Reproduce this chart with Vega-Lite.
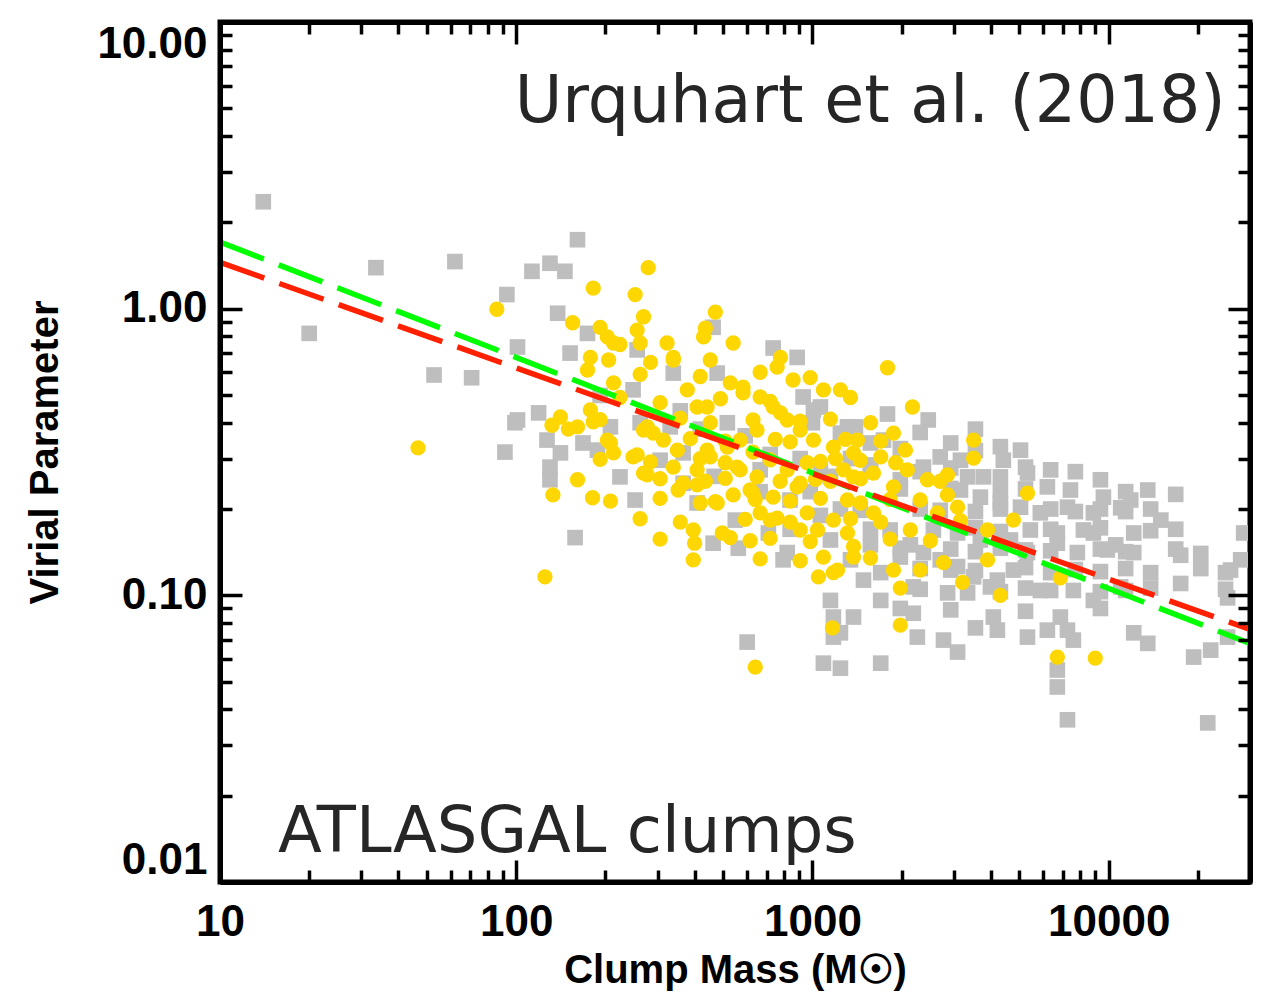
{
  "$schema": "https://vega.github.io/schema/vega-lite/v6.json",
  "width": 1030,
  "height": 860,
  "autosize": {"type": "none"},
  "padding": {"left": 220, "top": 22, "right": 13, "bottom": 113},
  "background": "white",
  "config": {"view": {"stroke": "black", "strokeWidth": 5}},
  "datasets": {
    "atlasgal": [
      {"mass": 14.0, "alpha": 2.36}, {"mass": 33.6, "alpha": 1.39}, {"mass": 20.0, "alpha": 0.82}, {"mass": 62.1, "alpha": 1.46},
      {"mass": 52.8, "alpha": 0.587}, {"mass": 93, "alpha": 1.12}, {"mass": 161, "alpha": 1.74}, {"mass": 113, "alpha": 1.35},
      {"mass": 130, "alpha": 1.44}, {"mass": 146, "alpha": 1.35}, {"mass": 138, "alpha": 0.964}, {"mass": 101, "alpha": 0.735},
      {"mass": 70.7, "alpha": 0.574}, {"mass": 101, "alpha": 0.409}, {"mass": 119, "alpha": 0.433}, {"mass": 152, "alpha": 0.70},
      {"mass": 174, "alpha": 0.82}, {"mass": 256, "alpha": 0.718}, {"mass": 248, "alpha": 0.521}, {"mass": 737, "alpha": 0.729},
      {"mass": 888, "alpha": 0.676}, {"mass": 462, "alpha": 0.861}, {"mass": 930, "alpha": 0.492}, {"mass": 1064, "alpha": 0.454},
      {"mass": 208, "alpha": 0.387}, {"mass": 99, "alpha": 0.400}, {"mass": 127, "alpha": 0.348}, {"mass": 91.6, "alpha": 0.316},
      {"mass": 141, "alpha": 0.314}, {"mass": 130, "alpha": 0.280}, {"mass": 130, "alpha": 0.253}, {"mass": 168, "alpha": 0.340},
      {"mass": 188, "alpha": 0.321}, {"mass": 224, "alpha": 0.259}, {"mass": 252, "alpha": 0.215}, {"mass": 158, "alpha": 0.159},
      {"mass": 306, "alpha": 0.296}, {"mass": 408, "alpha": 0.210}, {"mass": 366, "alpha": 0.246}, {"mass": 549, "alpha": 0.183},
      {"mass": 462, "alpha": 0.152}, {"mass": 562, "alpha": 0.146}, {"mass": 710, "alpha": 0.165}, {"mass": 822, "alpha": 0.141},
      {"mass": 1150, "alpha": 0.096}, {"mass": 602, "alpha": 0.0687}, {"mass": 1089, "alpha": 0.058}, {"mass": 1177, "alpha": 0.0715},
      {"mass": 339, "alpha": 0.596}, {"mass": 331, "alpha": 0.387}, {"mass": 366, "alpha": 0.314}, {"mass": 1008, "alpha": 0.443},
      {"mass": 1313, "alpha": 0.387}, {"mass": 477, "alpha": 0.596}, {"mass": 516, "alpha": 0.400}, {"mass": 1792, "alpha": 0.429},
      {"mass": 2460, "alpha": 0.409}, {"mass": 1397, "alpha": 0.387}, {"mass": 1243, "alpha": 0.368}, {"mass": 1737, "alpha": 0.348},
      {"mass": 2930, "alpha": 0.340}, {"mass": 4410, "alpha": 0.296}, {"mass": 2370, "alpha": 0.280}, {"mass": 2700, "alpha": 0.304},
      {"mass": 3340, "alpha": 0.259}, {"mass": 3780, "alpha": 0.259}, {"mass": 4310, "alpha": 0.259}, {"mass": 5320, "alpha": 0.267},
      {"mass": 6210, "alpha": 0.239}, {"mass": 7430, "alpha": 0.233}, {"mass": 9380, "alpha": 0.253}, {"mass": 9600, "alpha": 0.220},
      {"mass": 13550, "alpha": 0.233}, {"mass": 10980, "alpha": 0.202}, {"mass": 8880, "alpha": 0.194}, {"mass": 7260, "alpha": 0.203},
      {"mass": 5880, "alpha": 0.194}, {"mass": 5040, "alpha": 0.203}, {"mass": 4310, "alpha": 0.210}, {"mass": 3690, "alpha": 0.220},
      {"mass": 3160, "alpha": 0.233}, {"mass": 12150, "alpha": 0.165}, {"mass": 28560, "alpha": 0.165}, {"mass": 8220, "alpha": 0.169},
      {"mass": 6710, "alpha": 0.165}, {"mass": 5440, "alpha": 0.169}, {"mass": 4660, "alpha": 0.156}, {"mass": 3690, "alpha": 0.156},
      {"mass": 3090, "alpha": 0.165}, {"mass": 2560, "alpha": 0.169}, {"mass": 12150, "alpha": 0.141}, {"mass": 8880, "alpha": 0.165},
      {"mass": 9900, "alpha": 0.144}, {"mass": 7840, "alpha": 0.141}, {"mass": 6710, "alpha": 0.152}, {"mass": 5320, "alpha": 0.141},
      {"mass": 4770, "alpha": 0.1225}, {"mass": 4210, "alpha": 0.113}, {"mass": 3500, "alpha": 0.116}, {"mass": 3090, "alpha": 0.126},
      {"mass": 2700, "alpha": 0.133}, {"mass": 2370, "alpha": 0.141}, {"mass": 1980, "alpha": 0.136}, {"mass": 1700, "alpha": 0.120},
      {"mass": 1487, "alpha": 0.113}, {"mass": 2190, "alpha": 0.107}, {"mass": 2860, "alpha": 0.102}, {"mass": 3340, "alpha": 0.102},
      {"mass": 3990, "alpha": 0.107}, {"mass": 5880, "alpha": 0.104}, {"mass": 7600, "alpha": 0.104}, {"mass": 8880, "alpha": 0.096},
      {"mass": 10980, "alpha": 0.107}, {"mass": 17500, "alpha": 0.110}, {"mass": 25800, "alpha": 0.1225}, {"mass": 25200, "alpha": 0.098},
      {"mass": 25200, "alpha": 0.0715}, {"mass": 22100, "alpha": 0.0644}, {"mass": 19360, "alpha": 0.0609}, {"mass": 12150, "alpha": 0.074},
      {"mass": 13550, "alpha": 0.068}, {"mass": 1700, "alpha": 0.096}, {"mass": 1376, "alpha": 0.084}, {"mass": 2190, "alpha": 0.0866},
      {"mass": 2260, "alpha": 0.0715}, {"mass": 2770, "alpha": 0.0698}, {"mass": 3090, "alpha": 0.0634}, {"mass": 4080, "alpha": 0.084},
      {"mass": 4210, "alpha": 0.0756}, {"mass": 5320, "alpha": 0.0715}, {"mass": 6210, "alpha": 0.0756}, {"mass": 6870, "alpha": 0.084},
      {"mass": 7260, "alpha": 0.0756}, {"mass": 7600, "alpha": 0.0698}, {"mass": 6710, "alpha": 0.0549}, {"mass": 6710, "alpha": 0.0479},
      {"mass": 7260, "alpha": 0.0368}, {"mass": 21600, "alpha": 0.0359}, {"mass": 1700, "alpha": 0.058}, {"mass": 1243, "alpha": 0.0557},
      {"mass": 1243, "alpha": 0.074}, {"mass": 796, "alpha": 0.133}, {"mass": 1177, "alpha": 0.084}, {"mass": 1570, "alpha": 0.285},
      {"mass": 1980, "alpha": 0.253}, {"mass": 1450, "alpha": 0.198}, {"mass": 1830, "alpha": 0.169}, {"mass": 2700, "alpha": 0.198},
      {"mass": 3160, "alpha": 0.296}, {"mass": 5040, "alpha": 0.321}, {"mass": 6370, "alpha": 0.274}, {"mass": 11870, "alpha": 0.215},
      {"mass": 15000, "alpha": 0.183}, {"mass": 17500, "alpha": 0.138}, {"mass": 840, "alpha": 0.215}, {"mass": 666, "alpha": 0.274},
      {"mass": 1064, "alpha": 0.274}, {"mass": 1150, "alpha": 0.156}, {"mass": 1344, "alpha": 0.133}, {"mass": 1570, "alpha": 0.150},
      {"mass": 2140, "alpha": 0.150}, {"mass": 2930, "alpha": 0.1225}, {"mass": 10560, "alpha": 0.150}, {"mass": 27900, "alpha": 0.133},
      {"mass": 192, "alpha": 0.498},
      {"mass": 2310, "alpha": 0.37}, {"mass": 3550, "alpha": 0.38}, {"mass": 1980, "alpha": 0.325}, {"mass": 3550, "alpha": 0.32},
      {"mass": 4310, "alpha": 0.33}, {"mass": 2310, "alpha": 0.27}, {"mass": 2930, "alpha": 0.278}, {"mass": 5240, "alpha": 0.28},
      {"mass": 7720, "alpha": 0.27}, {"mass": 1570, "alpha": 0.27}, {"mass": 1980, "alpha": 0.235}, {"mass": 2930, "alpha": 0.236},
      {"mass": 4310, "alpha": 0.23}, {"mass": 5240, "alpha": 0.235}, {"mass": 11410, "alpha": 0.23}, {"mass": 16840, "alpha": 0.225},
      {"mass": 2310, "alpha": 0.2}, {"mass": 3550, "alpha": 0.196}, {"mass": 4310, "alpha": 0.2}, {"mass": 6370, "alpha": 0.2},
      {"mass": 7720, "alpha": 0.196}, {"mass": 9380, "alpha": 0.2}, {"mass": 11410, "alpha": 0.196}, {"mass": 13860, "alpha": 0.2},
      {"mass": 1570, "alpha": 0.17}, {"mass": 3550, "alpha": 0.172}, {"mass": 4310, "alpha": 0.167}, {"mass": 6370, "alpha": 0.17},
      {"mass": 9380, "alpha": 0.172}, {"mass": 13860, "alpha": 0.168}, {"mass": 16840, "alpha": 0.17}, {"mass": 1980, "alpha": 0.146},
      {"mass": 2930, "alpha": 0.145}, {"mass": 3550, "alpha": 0.142}, {"mass": 4310, "alpha": 0.146}, {"mass": 5240, "alpha": 0.144},
      {"mass": 6370, "alpha": 0.143}, {"mass": 9380, "alpha": 0.145}, {"mass": 11410, "alpha": 0.142}, {"mass": 16840, "alpha": 0.145},
      {"mass": 20460, "alpha": 0.14}, {"mass": 2310, "alpha": 0.124}, {"mass": 3550, "alpha": 0.122}, {"mass": 5240, "alpha": 0.125},
      {"mass": 6370, "alpha": 0.12}, {"mass": 7720, "alpha": 0.123}, {"mass": 9380, "alpha": 0.121}, {"mass": 11410, "alpha": 0.124},
      {"mass": 13860, "alpha": 0.12}, {"mass": 20460, "alpha": 0.124}, {"mass": 24800, "alpha": 0.12}, {"mass": 2310, "alpha": 0.105},
      {"mass": 4310, "alpha": 0.103}, {"mass": 5240, "alpha": 0.106}, {"mass": 6370, "alpha": 0.104}, {"mass": 9380, "alpha": 0.103},
      {"mass": 11410, "alpha": 0.104}, {"mass": 13860, "alpha": 0.106}, {"mass": 24800, "alpha": 0.105}, {"mass": 1980, "alpha": 0.09},
      {"mass": 2930, "alpha": 0.089}, {"mass": 5240, "alpha": 0.088}, {"mass": 9380, "alpha": 0.09}, {"mass": 3550, "alpha": 0.077},
      {"mass": 418, "alpha": 0.38}, {"mass": 593, "alpha": 0.36}, {"mass": 358, "alpha": 0.44}, {"mass": 262, "alpha": 0.40},
      {"mass": 720, "alpha": 0.31}, {"mass": 909, "alpha": 0.30}, {"mass": 666, "alpha": 0.23}, {"mass": 983, "alpha": 0.23},
      {"mass": 1150, "alpha": 0.26}, {"mass": 1243, "alpha": 0.20}, {"mass": 841, "alpha": 0.17}, {"mass": 1064, "alpha": 0.19},
      {"mass": 466, "alpha": 0.26}, {"mass": 1344, "alpha": 0.30}, {"mass": 1570, "alpha": 0.34}, {"mass": 1000, "alpha": 0.40}
    ],
    "subset": [
      {"mass": 46.6, "alpha": 0.327}, {"mass": 125, "alpha": 0.116}, {"mass": 86, "alpha": 0.995}, {"mass": 182, "alpha": 1.18},
      {"mass": 279, "alpha": 1.39}, {"mass": 252, "alpha": 1.12}, {"mass": 155, "alpha": 0.893}, {"mass": 192, "alpha": 0.861},
      {"mass": 203, "alpha": 0.797}, {"mass": 224, "alpha": 0.75}, {"mass": 269, "alpha": 0.937}, {"mass": 256, "alpha": 0.842},
      {"mass": 323, "alpha": 0.759}, {"mass": 339, "alpha": 0.662}, {"mass": 284, "alpha": 0.65}, {"mass": 470, "alpha": 0.973},
      {"mass": 435, "alpha": 0.855}, {"mass": 540, "alpha": 0.759}, {"mass": 452, "alpha": 0.662}, {"mass": 178, "alpha": 0.676},
      {"mass": 174, "alpha": 0.611}, {"mass": 205, "alpha": 0.662}, {"mass": 213, "alpha": 0.551}, {"mass": 378, "alpha": 0.521},
      {"mass": 408, "alpha": 0.454}, {"mass": 528, "alpha": 0.551}, {"mass": 583, "alpha": 0.509}, {"mass": 666, "alpha": 0.492},
      {"mass": 760, "alpha": 0.626}, {"mass": 860, "alpha": 0.564}, {"mass": 1089, "alpha": 0.521}, {"mass": 141, "alpha": 0.419},
      {"mass": 161, "alpha": 0.387}, {"mass": 178, "alpha": 0.443}, {"mass": 277, "alpha": 0.387}, {"mass": 630, "alpha": 0.409},
      {"mass": 780, "alpha": 0.433}, {"mass": 132, "alpha": 0.392}, {"mass": 150, "alpha": 0.380}, {"mass": 182, "alpha": 0.403},
      {"mass": 203, "alpha": 0.348}, {"mass": 213, "alpha": 0.314}, {"mass": 256, "alpha": 0.309}, {"mass": 161, "alpha": 0.253},
      {"mass": 133, "alpha": 0.224}, {"mass": 181, "alpha": 0.219}, {"mass": 277, "alpha": 0.263}, {"mass": 290, "alpha": 0.368},
      {"mass": 314, "alpha": 0.348}, {"mass": 339, "alpha": 0.280}, {"mass": 352, "alpha": 0.233}, {"mass": 408, "alpha": 0.274},
      {"mass": 441, "alpha": 0.321}, {"mass": 557, "alpha": 0.280}, {"mass": 540, "alpha": 0.224}, {"mass": 477, "alpha": 0.210},
      {"mass": 616, "alpha": 0.233}, {"mass": 666, "alpha": 0.194}, {"mass": 737, "alpha": 0.220}, {"mass": 720, "alpha": 0.183},
      {"mass": 909, "alpha": 0.246}, {"mass": 960, "alpha": 0.194}, {"mass": 909, "alpha": 0.169}, {"mass": 1040, "alpha": 0.169},
      {"mass": 396, "alpha": 0.169}, {"mass": 400, "alpha": 0.152}, {"mass": 396, "alpha": 0.133}, {"mass": 496, "alpha": 0.165},
      {"mass": 528, "alpha": 0.159}, {"mass": 1089, "alpha": 0.136}, {"mass": 1048, "alpha": 0.116}, {"mass": 1177, "alpha": 0.120},
      {"mass": 1168, "alpha": 0.077}, {"mass": 641, "alpha": 0.0562}, {"mass": 630, "alpha": 0.316}, {"mass": 780, "alpha": 0.676},
      {"mass": 1243, "alpha": 0.521}, {"mass": 441, "alpha": 0.454}, {"mass": 583, "alpha": 0.532}, {"mass": 737, "alpha": 0.454},
      {"mass": 822, "alpha": 0.409}, {"mass": 909, "alpha": 0.377}, {"mass": 1008, "alpha": 0.348}, {"mass": 1177, "alpha": 0.329},
      {"mass": 1376, "alpha": 0.314}, {"mass": 650, "alpha": 0.377}, {"mass": 570, "alpha": 0.348}, {"mass": 516, "alpha": 0.329},
      {"mass": 452, "alpha": 0.304}, {"mass": 350, "alpha": 0.321}, {"mass": 269, "alpha": 0.377}, {"mass": 248, "alpha": 0.304},
      {"mass": 208, "alpha": 0.340}, {"mass": 269, "alpha": 0.267}, {"mass": 570, "alpha": 0.274}, {"mass": 650, "alpha": 0.259},
      {"mass": 822, "alpha": 0.274}, {"mass": 960, "alpha": 0.290}, {"mass": 1273, "alpha": 0.274}, {"mass": 366, "alpha": 0.246},
      {"mass": 213, "alpha": 0.759}, {"mass": 262, "alpha": 0.759}, {"mass": 339, "alpha": 0.676}, {"mass": 429, "alpha": 0.797},
      {"mass": 1792, "alpha": 0.622}, {"mass": 2176, "alpha": 0.454}, {"mass": 1877, "alpha": 0.368}, {"mass": 2060, "alpha": 0.321},
      {"mass": 2090, "alpha": 0.274}, {"mass": 2445, "alpha": 0.253}, {"mass": 2856, "alpha": 0.263}, {"mass": 3500, "alpha": 0.348},
      {"mass": 3500, "alpha": 0.301}, {"mass": 2310, "alpha": 0.215}, {"mass": 2856, "alpha": 0.224}, {"mass": 3090, "alpha": 0.203},
      {"mass": 2643, "alpha": 0.194}, {"mass": 5320, "alpha": 0.227}, {"mass": 4770, "alpha": 0.183}, {"mass": 3900, "alpha": 0.169},
      {"mass": 2140, "alpha": 0.169}, {"mass": 1419, "alpha": 0.348}, {"mass": 1450, "alpha": 0.296}, {"mass": 1700, "alpha": 0.304},
      {"mass": 1607, "alpha": 0.267}, {"mass": 1376, "alpha": 0.259}, {"mass": 1877, "alpha": 0.239}, {"mass": 1313, "alpha": 0.215},
      {"mass": 1607, "alpha": 0.194}, {"mass": 1980, "alpha": 0.106}, {"mass": 1980, "alpha": 0.0787}, {"mass": 2310, "alpha": 0.1225},
      {"mass": 2770, "alpha": 0.130}, {"mass": 3210, "alpha": 0.111}, {"mass": 4310, "alpha": 0.100}, {"mass": 3900, "alpha": 0.133},
      {"mass": 6710, "alpha": 0.0609}, {"mass": 9010, "alpha": 0.0604}, {"mass": 6870, "alpha": 0.115}, {"mass": 1877, "alpha": 0.1225},
      {"mass": 1376, "alpha": 0.136}, {"mass": 408, "alpha": 0.243}, {"mass": 470, "alpha": 0.212}, {"mass": 630, "alpha": 0.227},
      {"mass": 760, "alpha": 0.186}, {"mass": 888, "alpha": 0.239}, {"mass": 1177, "alpha": 0.183}, {"mass": 1313, "alpha": 0.165},
      {"mass": 1376, "alpha": 0.148}, {"mass": 1215, "alpha": 0.1225},
      {"mass": 262, "alpha": 0.59}, {"mass": 418, "alpha": 0.58}, {"mass": 666, "alpha": 0.60}, {"mass": 983, "alpha": 0.575},
      {"mass": 224, "alpha": 0.49}, {"mass": 306, "alpha": 0.47}, {"mass": 489, "alpha": 0.485}, {"mass": 720, "alpha": 0.475},
      {"mass": 1344, "alpha": 0.49}, {"mass": 192, "alpha": 0.41}, {"mass": 358, "alpha": 0.415}, {"mass": 452, "alpha": 0.40},
      {"mass": 909, "alpha": 0.405}, {"mass": 1150, "alpha": 0.412}, {"mass": 1570, "alpha": 0.40}, {"mass": 387, "alpha": 0.352},
      {"mass": 508, "alpha": 0.345}, {"mass": 749, "alpha": 0.35}, {"mass": 841, "alpha": 0.343}, {"mass": 1293, "alpha": 0.35},
      {"mass": 1700, "alpha": 0.345}, {"mass": 192, "alpha": 0.298}, {"mass": 284, "alpha": 0.292}, {"mass": 418, "alpha": 0.30},
      {"mass": 508, "alpha": 0.29}, {"mass": 720, "alpha": 0.297}, {"mass": 1064, "alpha": 0.293}, {"mass": 1196, "alpha": 0.30},
      {"mass": 1910, "alpha": 0.29}, {"mass": 306, "alpha": 0.255}, {"mass": 435, "alpha": 0.25}, {"mass": 508, "alpha": 0.256},
      {"mass": 778, "alpha": 0.25}, {"mass": 1024, "alpha": 0.254}, {"mass": 1150, "alpha": 0.25}, {"mass": 1453, "alpha": 0.255},
      {"mass": 2700, "alpha": 0.25}, {"mass": 208, "alpha": 0.213}, {"mass": 306, "alpha": 0.218}, {"mass": 418, "alpha": 0.21},
      {"mass": 641, "alpha": 0.216}, {"mass": 841, "alpha": 0.213}, {"mass": 1064, "alpha": 0.218}, {"mass": 1453, "alpha": 0.21},
      {"mass": 1830, "alpha": 0.216}, {"mass": 262, "alpha": 0.185}, {"mass": 358, "alpha": 0.18}, {"mass": 593, "alpha": 0.184},
      {"mass": 841, "alpha": 0.18}, {"mass": 1344, "alpha": 0.185}, {"mass": 1700, "alpha": 0.18}, {"mass": 3160, "alpha": 0.182},
      {"mass": 306, "alpha": 0.157}, {"mass": 616, "alpha": 0.155}, {"mass": 720, "alpha": 0.158}, {"mass": 983, "alpha": 0.154},
      {"mass": 1830, "alpha": 0.157}, {"mass": 2500, "alpha": 0.155}, {"mass": 666, "alpha": 0.134}, {"mass": 909, "alpha": 0.132},
      {"mass": 1570, "alpha": 0.135}
    ],
    "fits": [
      {"fit": "green", "mass": 10, "alpha": 1.709}, {"fit": "green", "mass": 30000, "alpha": 0.0679},
      {"fit": "red", "mass": 10, "alpha": 1.451}, {"fit": "red", "mass": 30000, "alpha": 0.0760}
    ],
    "notes": [
      {"note": "Urquhart et al. (2018)", "mass": 24830, "alpha": 4.48, "side": "right"},
      {"note": "ATLASGAL clumps", "mass": 15.7, "alpha": 0.01274, "side": "left"}
    ]
  },
  "resolve": {"axis": {"x": "independent", "y": "independent"}},
  "layer": [
    {
      "data": {"name": "atlasgal"},
      "mark": {"type": "point", "shape": "square", "filled": true, "size": 245, "color": "#bebebe", "opacity": 1, "clip": true},
      "encoding": {
        "x": {"field": "mass", "type": "quantitative",
          "scale": {"type": "log", "domain": [10, 30000], "nice": false},
          "axis": {
            "orient": "bottom", "zindex": 1,
            "values": [10, 20, 30, 40, 50, 60, 70, 80, 90, 100, 200, 300, 400, 500, 600, 700, 800, 900, 1000, 2000, 3000, 4000, 5000, 6000, 7000, 8000, 9000, 10000, 20000, 30000],
            "labelExpr": "indexof([10,100,1000,10000], datum.value) >= 0 ? format(datum.value, 'd') : ''",
            "labelOverlap": false, "labelFlush": false,
            "labelFont": "Liberation Sans", "labelFontWeight": "bold", "labelFontSize": 44, "labelColor": "black", "labelPadding": 40,
            "tickSize": {"condition": {"test": "indexof([10,100,1000,10000], datum.value) >= 0", "value": -22}, "value": -12},
            "tickColor": "black", "tickWidth": 3.5,
            "domainColor": "black", "domainWidth": 5, "grid": false,
            "title": "Clump Mass (M☉)", "titleFont": "Liberation Sans", "titleFontWeight": "bold", "titleFontSize": 40, "titleColor": "black",
            "titleX": 515, "titleY": 88, "titleAlign": "center", "titleBaseline": "middle"
          }
        },
        "y": {"field": "alpha", "type": "quantitative",
          "scale": {"type": "log", "domain": [0.01, 10], "nice": false},
          "axis": {
            "orient": "left", "zindex": 1,
            "values": [0.01, 0.02, 0.03, 0.04, 0.05, 0.06, 0.07, 0.08, 0.09, 0.1, 0.2, 0.3, 0.4, 0.5, 0.6, 0.7, 0.8, 0.9, 1, 2, 3, 4, 5, 6, 7, 8, 9, 10],
            "labelExpr": "indexof([0.01,0.1,1,10], datum.value) >= 0 ? format(datum.value, '.2f') : ''",
            "labelOverlap": false, "labelFlush": true,
            "labelFont": "Liberation Sans", "labelFontWeight": "bold", "labelFontSize": 44, "labelColor": "black", "labelPadding": 35,
            "tickSize": {"condition": {"test": "indexof([0.01,0.1,1,10], datum.value) >= 0", "value": -22}, "value": -12},
            "tickColor": "black", "tickWidth": 3.5,
            "domainColor": "black", "domainWidth": 5, "grid": false,
            "title": "Virial Parameter", "titleFont": "Liberation Sans", "titleFontWeight": "bold", "titleFontSize": 40, "titleColor": "black",
            "titleAngle": 270, "titleX": -175, "titleY": 430, "titleAlign": "center", "titleBaseline": "middle"
          }
        }
      }
    },
    {
      "data": {"name": "subset"},
      "mark": {"type": "point", "shape": "circle", "filled": true, "size": 235, "color": "#ffd700", "opacity": 1, "clip": true},
      "encoding": {
        "x": {"field": "mass", "type": "quantitative",
          "scale": {"type": "log", "domain": [10, 30000], "nice": false},
          "axis": {
            "orient": "top", "zindex": 1, "labels": false, "title": null,
            "values": [10, 20, 30, 40, 50, 60, 70, 80, 90, 100, 200, 300, 400, 500, 600, 700, 800, 900, 1000, 2000, 3000, 4000, 5000, 6000, 7000, 8000, 9000, 10000, 20000, 30000],
            "tickSize": {"condition": {"test": "indexof([10,100,1000,10000], datum.value) >= 0", "value": -22}, "value": -12},
            "tickColor": "black", "tickWidth": 3.5,
            "domainColor": "black", "domainWidth": 5, "grid": false
          }
        },
        "y": {"field": "alpha", "type": "quantitative",
          "scale": {"type": "log", "domain": [0.01, 10], "nice": false},
          "axis": {
            "orient": "right", "zindex": 1, "labels": false, "title": null,
            "values": [0.01, 0.02, 0.03, 0.04, 0.05, 0.06, 0.07, 0.08, 0.09, 0.1, 0.2, 0.3, 0.4, 0.5, 0.6, 0.7, 0.8, 0.9, 1, 2, 3, 4, 5, 6, 7, 8, 9, 10],
            "tickSize": {"condition": {"test": "indexof([0.01,0.1,1,10], datum.value) >= 0", "value": -22}, "value": -12},
            "tickColor": "black", "tickWidth": 3.5,
            "domainColor": "black", "domainWidth": 5, "grid": false
          }
        }
      }
    },
    {
      "data": {"name": "fits"},
      "transform": [{"filter": "datum.fit === 'green'"}],
      "mark": {"type": "line", "stroke": "#00ff00", "strokeWidth": 5.5, "strokeDash": [47, 16], "clip": true},
      "encoding": {
        "x": {"field": "mass", "type": "quantitative", "scale": {"type": "log", "domain": [10, 30000], "nice": false}, "axis": null},
        "y": {"field": "alpha", "type": "quantitative", "scale": {"type": "log", "domain": [0.01, 10], "nice": false}, "axis": null}
      }
    },
    {
      "data": {"name": "fits"},
      "transform": [{"filter": "datum.fit === 'red'"}],
      "mark": {"type": "line", "stroke": "#ff2000", "strokeWidth": 5.5, "strokeDash": [47, 16], "clip": true},
      "encoding": {
        "x": {"field": "mass", "type": "quantitative", "scale": {"type": "log", "domain": [10, 30000], "nice": false}, "axis": null},
        "y": {"field": "alpha", "type": "quantitative", "scale": {"type": "log", "domain": [0.01, 10], "nice": false}, "axis": null}
      }
    },
    {
      "data": {"name": "notes"},
      "transform": [{"filter": "datum.side === 'right'"}],
      "mark": {"type": "text", "font": "DejaVu Sans", "fontSize": 65, "fill": "#262626", "align": "right", "baseline": "alphabetic"},
      "encoding": {
        "x": {"field": "mass", "type": "quantitative", "scale": {"type": "log", "domain": [10, 30000], "nice": false}, "axis": null},
        "y": {"field": "alpha", "type": "quantitative", "scale": {"type": "log", "domain": [0.01, 10], "nice": false}, "axis": null},
        "text": {"field": "note"}
      }
    },
    {
      "data": {"name": "notes"},
      "transform": [{"filter": "datum.side === 'left'"}],
      "mark": {"type": "text", "font": "DejaVu Sans", "fontSize": 64, "fill": "#262626", "align": "left", "baseline": "alphabetic"},
      "encoding": {
        "x": {"field": "mass", "type": "quantitative", "scale": {"type": "log", "domain": [10, 30000], "nice": false}, "axis": null},
        "y": {"field": "alpha", "type": "quantitative", "scale": {"type": "log", "domain": [0.01, 10], "nice": false}, "axis": null},
        "text": {"field": "note"}
      }
    }
  ]
}
